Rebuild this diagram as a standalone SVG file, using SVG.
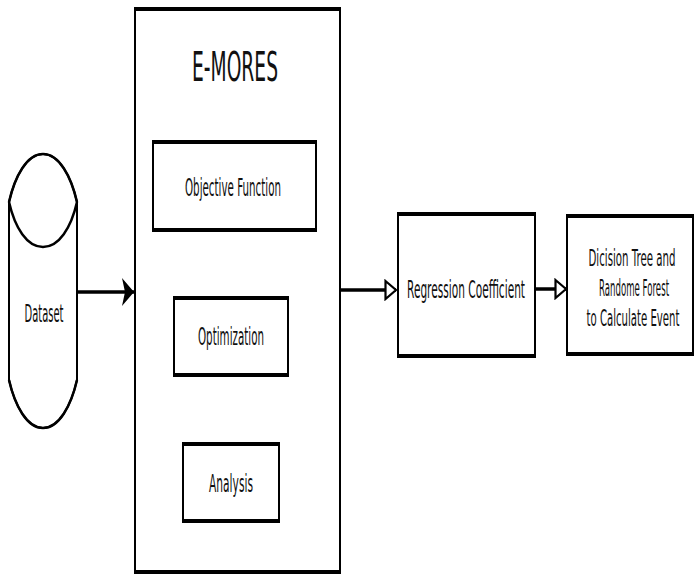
<svg xmlns="http://www.w3.org/2000/svg" width="694" height="575" viewBox="0 0 694 575">
<style>
.box{fill:#fff;stroke:#000;stroke-width:2}
.edge{stroke:#000;stroke-width:4;fill:none}
.t{font-family:"DejaVu Sans","Liberation Sans",sans-serif;font-size:24.5px;fill:#111;text-anchor:middle}
.s{font-size:23px}
.conn{stroke:#000;stroke-width:3.5;fill:none}
</style>
<defs>
<marker id="solid" markerUnits="userSpaceOnUse" markerWidth="14" markerHeight="30" refX="13" refY="15" orient="auto">
<path d="M1,1 L13,15 L1,29 L4,15 Z" fill="#000"/>
</marker>
<marker id="hollow" markerUnits="userSpaceOnUse" markerWidth="14" markerHeight="22" refX="12" refY="11" orient="auto">
<path d="M1.5,2 L12,11 L1.5,20 Z" fill="#fff" stroke="#000" stroke-width="2.2"/>
</marker>
</defs>
<g id="connectors">
<line class="conn" x1="77" y1="292" x2="134" y2="292" marker-end="url(#solid)"/>
<line class="conn" x1="341" y1="290" x2="396" y2="290" marker-end="url(#hollow)"/>
<line class="conn" x1="536" y1="289" x2="566" y2="289" marker-end="url(#hollow)"/>
</g>
<g id="dataset">
<path d="M9,202 C15,176 27,154 43,154 C59,154 71,176 77,202 L77,380 C71,406 59,428 43,428 C27,428 15,406 9,380 Z" fill="#fff" stroke="#000" stroke-width="2"/>
<path d="M9,202 C15,228 27,247 43,247 C59,247 71,228 77,202" fill="none" stroke="#000" stroke-width="2.5"/>
<path d="M9,202 C15,176 27,154 43,154 C59,154 71,176 77,202" fill="none" stroke="#000" stroke-width="2.5"/>
<path d="M9,380 C15,406 27,428 43,428 C59,428 71,406 77,380" fill="none" stroke="#000" stroke-width="2.5"/>
<text class="t" transform="translate(44,322) scale(0.5,1)" textLength="78" lengthAdjust="spacingAndGlyphs">Dataset</text>
</g>
<g id="emores">
<rect class="box" x="135" y="9" width="205" height="563"/>
<line class="edge" x1="134" y1="9" x2="341" y2="9"/>
<line class="edge" x1="134" y1="572" x2="341" y2="572"/>
<text class="t" transform="translate(235,81) scale(0.5,1)" style="font-size:40px" textLength="172" lengthAdjust="spacingAndGlyphs">E-MORES</text>
</g>
<g id="objective">
<rect class="box" x="153" y="142" width="163" height="88"/>
<line class="edge" x1="152" y1="142" x2="317" y2="142"/>
<line class="edge" x1="152" y1="230" x2="317" y2="230"/>
<text class="t" transform="translate(233,196) scale(0.5,1)" textLength="192" lengthAdjust="spacingAndGlyphs">Objective Function</text>
</g>
<g id="optimization">
<rect class="box" x="174" y="298" width="114" height="77"/>
<line class="edge" x1="173" y1="298" x2="289" y2="298"/>
<line class="edge" x1="173" y1="375" x2="289" y2="375"/>
<text class="t" transform="translate(231,345) scale(0.5,1)" textLength="132" lengthAdjust="spacingAndGlyphs">Optimization</text>
</g>
<g id="analysis">
<rect class="box" x="183" y="444" width="96" height="77"/>
<line class="edge" x1="182" y1="444" x2="280" y2="444"/>
<line class="edge" x1="182" y1="521" x2="280" y2="521"/>
<text class="t" transform="translate(231,492) scale(0.5,1)" textLength="88" lengthAdjust="spacingAndGlyphs">Analysis</text>
</g>
<g id="regression">
<rect class="box" x="398" y="214" width="137" height="142"/>
<line class="edge" x1="397" y1="214" x2="536" y2="214"/>
<line class="edge" x1="397" y1="356" x2="536" y2="356"/>
<text class="t" transform="translate(466,298) scale(0.5,1)" textLength="236" lengthAdjust="spacingAndGlyphs">Regression Coefficient</text>
</g>
<g id="decision">
<rect class="box" x="567" y="216" width="126" height="138"/>
<line class="edge" x1="566" y1="216" x2="694" y2="216"/>
<line class="edge" x1="566" y1="354" x2="694" y2="354"/>
<text class="t s" transform="translate(632,266) scale(0.5,1)" textLength="174" lengthAdjust="spacingAndGlyphs">Dicision Tree and</text>
<text class="t s" transform="translate(634,296) scale(0.5,1)" textLength="140" lengthAdjust="spacingAndGlyphs">Randome Forest</text>
<text class="t s" transform="translate(633,326) scale(0.5,1)" textLength="186" lengthAdjust="spacingAndGlyphs">to Calculate Event</text>
</g>
</svg>
